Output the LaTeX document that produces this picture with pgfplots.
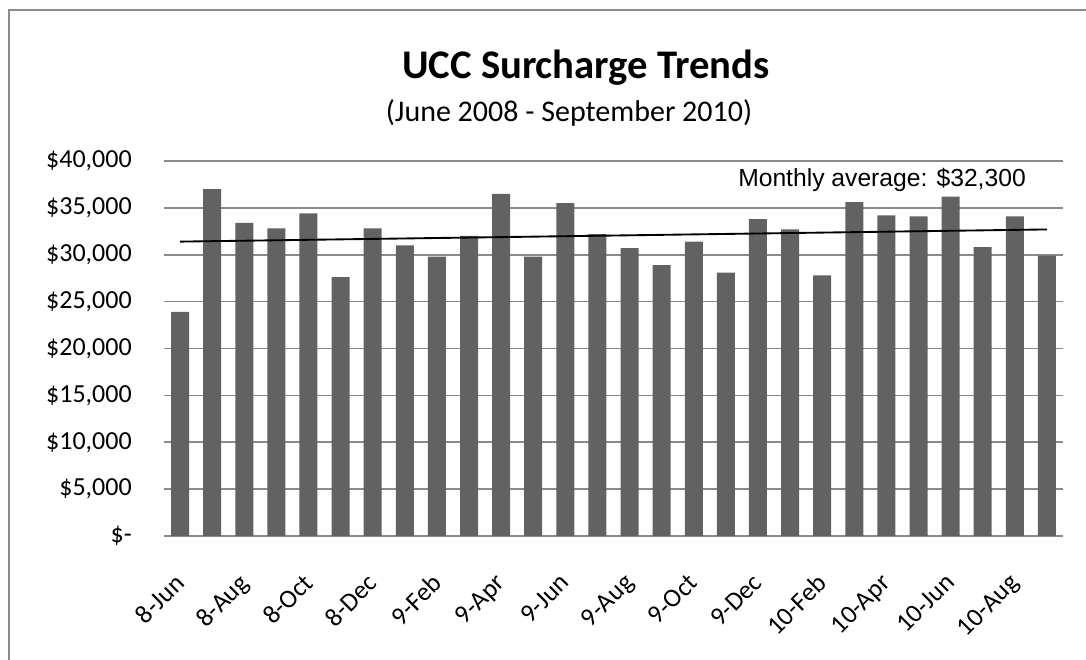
\documentclass[border=0pt]{standalone}
\usepackage{pgfplots}
\pgfplotsset{compat=1.18}
\usepackage{fontspec}
\setmainfont{Carlito}
\newfontfamily\arialfont{Liberation Sans}
\definecolor{barc}{RGB}{98,98,98}
\definecolor{gridc}{RGB}{138,138,138}
\definecolor{framec}{RGB}{140,140,140}
\begin{document}
\begin{tikzpicture}
\path[use as bounding box] (0,0) rectangle (814.5pt,495pt);
% frame (left and top edges visible)
\draw[framec, line width=1.2pt] (6.75pt,0) -- (6.75pt,487.5pt) -- (814.5pt,487.5pt);
\begin{axis}[
  at={(123pt,93pt)}, anchor=south west,
  width=674.25pt, height=281.25pt, scale only axis,
  xmin=-0.5, xmax=27.5, ymin=0, ymax=40000,
  scaled y ticks=false,
  axis line style={draw=none},
  major tick length=0pt,
  ybar, bar width=13.5pt,
  ymajorgrids, grid style={gridc, line width=1.3pt},
  ytick={0,5000,10000,15000,20000,25000,30000,35000,40000},
  yticklabels={{\$-\hspace{9pt}},{\$5,000},{\$10,000},{\$15,000},{\$20,000},{\$25,000},{\$30,000},{\$35,000},{\$40,000}},
  yticklabel style={font=\fontsize{19.5}{23}\selectfont, anchor=east, inner sep=0pt, xshift=-24pt},
  xtick={0,2,4,6,8,10,12,14,16,18,20,22,24,26},
  xticklabels={8-Jun,8-Aug,8-Oct,8-Dec,9-Feb,9-Apr,9-Jun,9-Aug,9-Oct,9-Dec,10-Feb,10-Apr,10-Jun,10-Aug},
  xticklabel style={font=\fontsize{19.5}{23}\selectfont, xshift=-5pt, yshift=-27pt, rotate=45, anchor=north east, inner sep=0pt},
  clip=false,
]
\addplot[fill=barc, draw=none] coordinates {
(0,23900) (1,37000) (2,33400) (3,32800) (4,34400) (5,27600) (6,32800)
(7,31000) (8,29800) (9,32000) (10,36500) (11,29800) (12,35500) (13,32200)
(14,30700) (15,28900) (16,31400) (17,28100) (18,33800) (19,32700) (20,27800)
(21,35600) (22,34200) (23,34100) (24,36200) (25,30800) (26,34100) (27,29900)};
\addplot[sharp plot, black, line width=1.4pt, mark=none, draw=black, fill=none] coordinates {(0,31400) (27,32700)};
\end{axis}
\node[anchor=base west, inner sep=0pt, font=\arialfont\fontsize{18.5}{22}\selectfont] at (553.5pt,354.75pt) {Monthly average: \$32,300};
\node[anchor=base, inner sep=0pt, font=\bfseries\fontsize{30.5}{36}\selectfont] at (439.5pt,435.75pt) {UCC Surcharge Trends};
\node[anchor=base, inner sep=0pt, font=\fontsize{22.5}{27}\selectfont] at (426.75pt,404pt) {(June 2008 - September 2010)};
\end{tikzpicture}
\end{document}
